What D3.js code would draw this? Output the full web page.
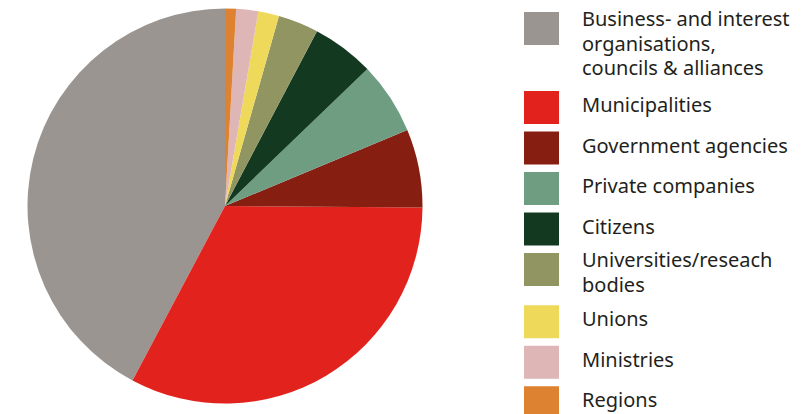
<!DOCTYPE html>
<html>
<head>
<meta charset="utf-8">
<script src="https://cdn.jsdelivr.net/npm/d3@7"></script>
<style>
  body { margin: 0; background: #fff; }
  svg { display: block; }
  .legend text { font-family: "Noto Sans", Lato, sans-serif; font-size: 20px; fill: #231f20; }
</style>
</head>
<body>
<div id="chart"></div>
<script>
// share of actors (%), in legend order
var categories = [
  ["Business- and interest", "organisations,", "councils & alliances"],
  ["Municipalities"],
  ["Government agencies"],
  ["Private companies"],
  ["Citizens"],
  ["Universities/reseach", "bodies"],
  ["Unions"],
  ["Ministries"],
  ["Regions"]
];
var values = [42.2, 32.6, 6.4, 5.9, 5.1, 3.3, 1.7, 1.8, 0.9];
var colors = ["#9a9591", "#e2231d", "#861f12", "#6f9d82", "#133a21", "#919562", "#efd95a", "#dfb6b6", "#dc8230"];

var width = 810, height = 414;
var cx = 225, cy = 206, radius = 197.5;

var svg = d3.select("#chart").append("svg")
  .attr("width", width)
  .attr("height", height);

// pie runs counter-clockwise from 12 o'clock
var pie = d3.pie()
  .sort(null)
  .startAngle(0)
  .endAngle(-2 * Math.PI);

var arc = d3.arc()
  .innerRadius(0)
  .outerRadius(radius);

var color = d3.scaleOrdinal()
  .domain(d3.range(values.length))
  .range(colors);

svg.append("g")
  .attr("transform", "translate(" + cx + "," + cy + ")")
  .selectAll("path")
  .data(pie(values))
  .enter().append("path")
    .attr("d", arc)
    .attr("fill", function(d, i) { return color(i); });

// legend
var legend = svg.append("g").attr("class", "legend");
var top0 = 12, lineH = 24.5;

categories.forEach(function(lines, i) {
  var g = legend.append("g").attr("transform", "translate(0," + top0 + ")");
  g.append("rect")
    .attr("x", 524)
    .attr("y", 0)
    .attr("width", 35)
    .attr("height", 33)
    .attr("fill", color(i));
  var base = lines.length === 1 ? 21 : 14;
  g.selectAll("text")
    .data(lines)
    .enter().append("text")
      .attr("x", 582)
      .attr("y", function(d, j) { return base + j * lineH; })
      .text(function(d) { return d; });
  top0 += lines.length === 1 ? 40.5 : 25.5 + 26.75 * (lines.length - 1);
});
</script>
</body>
</html>
